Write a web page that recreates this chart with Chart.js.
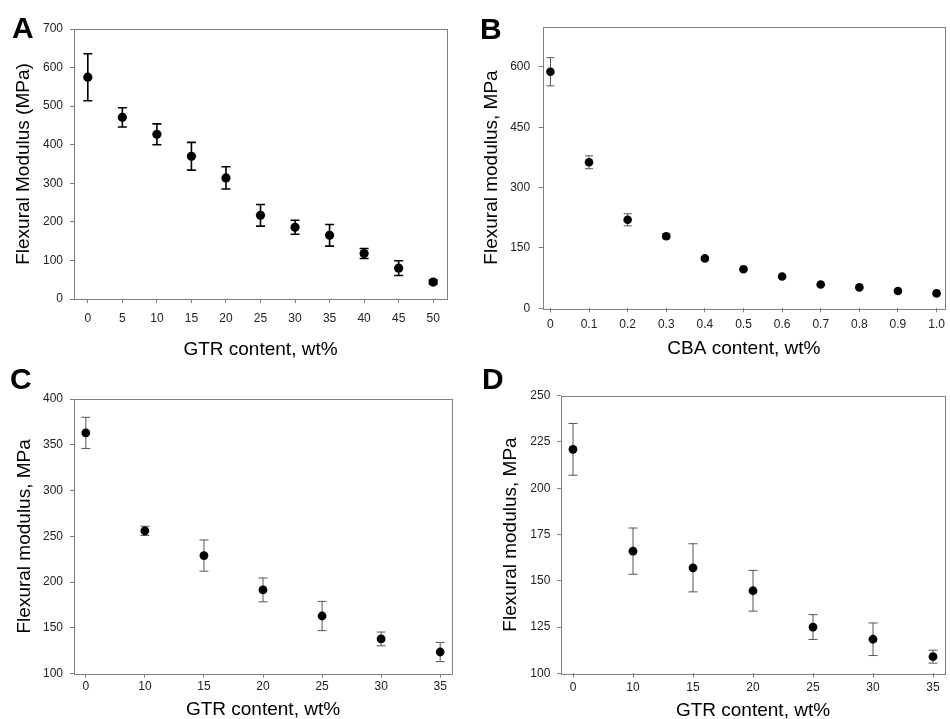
<!DOCTYPE html>
<html><head><meta charset="utf-8">
<script src="https://cdn.jsdelivr.net/npm/chart.js@4.4.1/dist/chart.umd.min.js"></script>
<style>
html,body{margin:0;padding:0;background:#fff;overflow:hidden;width:950px;height:719px;position:relative;}
canvas{position:absolute;}
.lab{position:absolute;font:bold 30px "Liberation Sans",Arial,sans-serif;line-height:30px;color:#000;}
</style></head><body>
<canvas id="cA" width="475" height="370" style="left:0;top:0"></canvas>
<canvas id="cB" width="475" height="370" style="left:475px;top:0"></canvas>
<canvas id="cC" width="475" height="380" style="left:0;top:355px"></canvas>
<canvas id="cD" width="475" height="380" style="left:475px;top:355px"></canvas>
<div class="lab" style="left:12px;top:13px">A</div>
<div class="lab" style="left:480px;top:14px">B</div>
<div class="lab" style="left:10px;top:364px">C</div>
<div class="lab" style="left:482px;top:364px">D</div>
<script>
// ---- Panel A ----
const aX = [0, 5, 10, 15, 20, 25, 30, 35, 40, 45, 50];
const aY = [575, 471, 427, 370, 314, 217, 186, 165, 118, 80, 44];
const aErr = [61, 25, 27, 36, 29, 28, 18, 28, 13, 19, 5];
const aXTicks = [0, 5, 10, 15, 20, 25, 30, 35, 40, 45, 50];
const aXTickLabels = ['0','5','10','15','20','25','30','35','40','45','50'];
const aYTicks = [0, 100, 200, 300, 400, 500, 600, 700];
// ---- Panel B ----
const bX = [0, 0.1, 0.2, 0.3, 0.4, 0.5, 0.6, 0.7, 0.8, 0.9, 1.0];
const bY = [588, 363, 220, 179, 124, 97, 79, 59, 52, 43, 37];
const bErr = [35, 16, 15, 6, 4, 3, 2, 2, 2, 2, 2];
const bXTicks = [0, 0.1, 0.2, 0.3, 0.4, 0.5, 0.6, 0.7, 0.8, 0.9, 1.0];
const bXTickLabels = ['0','0.1','0.2','0.3','0.4','0.5','0.6','0.7','0.8','0.9','1.0'];
const bYTicks = [0, 150, 300, 450, 600];
// ---- Panel C ----
const cCats = ['0','10','15','20','25','30','35'];
const cY = [363, 256, 229, 191.5, 163, 138, 123.7];
const cErr = [17, 5, 17, 13, 16, 7.5, 10.5];
const cYTicks = [100, 150, 200, 250, 300, 350, 400];
// ---- Panel D ----
const dCats = ['0','10','15','20','25','30','35'];
const dY = [221, 166, 157, 144.6, 125, 118.4, 109];
const dErr = [14, 12.5, 13, 11, 6.7, 8.8, 3.5];
const dYTicks = [100, 125, 150, 175, 200, 225, 250];

const FONT = '"Liberation Sans", Arial, sans-serif';
const FRAME = '#808080';

const errPlugin = {
  id: 'errbars',
  beforeDatasetsDraw(chart) {
    const o = chart.options.plugins.errbars;
    const ctx = chart.ctx, ca = chart.chartArea;
    ctx.save();
    ctx.strokeStyle = FRAME; ctx.lineWidth = 1;
    ctx.strokeRect(Math.round(ca.left) + 0.5, Math.round(ca.top) + 0.5,
                   Math.round(ca.right - ca.left), Math.round(ca.bottom - ca.top));
    const xs = chart.scales.x, ys = chart.scales.y;
    ctx.strokeStyle = o.color; ctx.lineWidth = o.width;
    chart.data.datasets[0].data.forEach((p, i) => {
      const e = o.err[i];
      if (!e) return;
      const px = xs.getPixelForValue(p.x);
      const yt = ys.getPixelForValue(p.y + e), yb = ys.getPixelForValue(p.y - e);
      ctx.beginPath();
      ctx.moveTo(px, yt); ctx.lineTo(px, yb);
      ctx.moveTo(px - o.cap, yt); ctx.lineTo(px + o.cap, yt);
      ctx.moveTo(px - o.cap, yb); ctx.lineTo(px + o.cap, yb);
      ctx.stroke();
    });
    ctx.restore();
  }
};

function makeChart(id, s) {
  const pts = s.xs.map((x, i) => ({ x: x, y: s.ys[i] }));
  return new Chart(document.getElementById(id), {
    type: 'scatter',
    data: { datasets: [{ data: pts, pointRadius: s.r, pointHoverRadius: s.r,
      backgroundColor: '#000', borderColor: '#000', borderWidth: 0, showLine: false }] },
    options: {
      responsive: false, animation: false, events: [],
      layout: { padding: s.pad },
      plugins: { legend: { display: false }, tooltip: { enabled: false },
        errbars: { err: s.err, color: s.ec, width: s.ew, cap: s.cap } },
      scales: {
        x: {
          type: 'linear', min: s.xmin, max: s.xmax,
          afterBuildTicks: sc => { sc.ticks = s.xt.map(v => ({ value: v })); },
          afterFit: sc => { sc.height = s.xh; },
          border: { display: false },
          grid: { drawOnChartArea: false, drawTicks: true, tickLength: 4, color: FRAME },
          ticks: { padding: s.xtp, color: '#222', font: { family: FONT, size: 12 }, maxRotation: 0,
            callback: v => { const k = s.xt.indexOf(v); return k >= 0 ? s.xl[k] : ''; } },
          title: { display: true, text: s.xTitle, color: '#000', padding: 0,
            font: { family: FONT, size: 19, lineHeight: 1 } }
        },
        y: {
          type: 'linear', min: s.ymin, max: s.ymax,
          afterBuildTicks: sc => { sc.ticks = s.yt.map(v => ({ value: v })); },
          afterFit: sc => { sc.width = s.yw; },
          border: { display: false },
          grid: { drawOnChartArea: false, drawTicks: true, tickLength: 4, color: FRAME },
          ticks: { padding: s.ytp, color: '#222', font: { family: FONT, size: 12 },
            callback: v => String(v) },
          title: { display: true, text: s.yTitle, color: '#000', padding: 0,
            font: { family: FONT, size: 19, lineHeight: 1 } }
        }
      }
    },
    plugins: [errPlugin]
  });
}

makeChart('cA', {
  xs: aX, ys: aY, err: aErr, xt: aXTicks, xl: aXTickLabels, yt: aYTicks,
  xmin: -2, xmax: 52, ymin: 0, ymax: 700,
  pad: { left: 14.5, top: 29, right: 28, bottom: 10.5 }, yw: 59.5, xh: 60.5,
  xtp: 8, ytp: 7, r: 4.6, ec: '#000', ew: 1.6, cap: 4.5,
  xTitle: 'GTR content, wt%', yTitle: 'Flexural Modulus (MPa)'
});
makeChart('cB', {
  xs: bX, ys: bY, err: bErr, xt: bXTicks, xl: bXTickLabels, yt: bYTicks,
  xmin: -0.02, xmax: 1.022, ymin: 0, ymax: 700,
  pad: { left: 7, top: 26.7, right: 4, bottom: 11.5 }, yw: 60.7, xh: 50.2,
  xtp: 5, ytp: 8.5, r: 4.3, ec: '#555', ew: 1, cap: 4,
  xTitle: 'CBA content, wt%', yTitle: 'Flexural modulus, MPa'
});
makeChart('cC', {
  xs: cCats.map((c, i) => i), ys: cY, err: cErr, xt: cCats.map((c, i) => i), xl: cCats, yt: cYTicks,
  xmin: -0.2, xmax: 6.2, ymin: 100, ymax: 400,
  pad: { left: 15.5, top: 44, right: 23, bottom: 15.5 }, yw: 58.5, xh: 45.8,
  xtp: 2, ytp: 7, r: 4.4, ec: '#555', ew: 1, cap: 4.5,
  xTitle: 'GTR content, wt%', yTitle: 'Flexural modulus, MPa'
});
makeChart('cD', {
  xs: dCats.map((c, i) => i), ys: dY, err: dErr, xt: dCats.map((c, i) => i), xl: dCats, yt: dYTicks,
  xmin: -0.2, xmax: 6.2, ymin: 100, ymax: 250,
  pad: { left: 26, top: 40.7, right: 5, bottom: 15 }, yw: 60, xh: 46.7,
  xtp: 3, ytp: 6.7, r: 4.4, ec: '#555', ew: 1, cap: 4.5,
  xTitle: 'GTR content, wt%', yTitle: 'Flexural modulus, MPa'
});
</script>
</body></html>
